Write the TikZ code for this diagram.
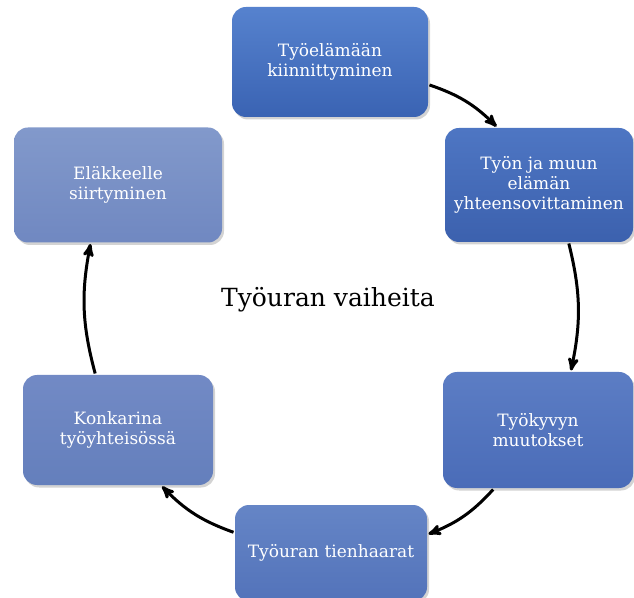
\documentclass[tikz,border=0pt]{standalone}
\usepackage{fontspec}
\setmainfont{DejaVu Serif}
\usepackage{tikz}
\usetikzlibrary{arrows,shadows}

\definecolor{faseAt}{HTML}{5682CE}
\definecolor{faseAb}{HTML}{3A63B3}
\definecolor{faseBt}{HTML}{4E76C3}
\definecolor{faseBb}{HTML}{3C61AE}
\definecolor{faseCt}{HTML}{5C7DC4}
\definecolor{faseCb}{HTML}{4A6CB8}
\definecolor{faseDt}{HTML}{6585C6}
\definecolor{faseDb}{HTML}{5373BA}
\definecolor{faseEt}{HTML}{728AC5}
\definecolor{faseEb}{HTML}{647FBC}
\definecolor{faseFt}{HTML}{8299CB}
\definecolor{faseFb}{HTML}{7088C1}

\begin{document}
\begin{tikzpicture}[x=1pt,y=1pt,->,>=stealth',line width=3pt,bend left=13]
		\tikzstyle{fase}=[rectangle,rounded corners=14pt,draw=none,text=white,align=center,
			font=\fontsize{17}{20}\selectfont,inner sep=0pt,
			drop shadow={opacity=0.35,shadow xshift=2pt,shadow yshift=-2.5pt}]
		\useasboundingbox (0,0) rectangle (634,597);
		\node[fase,top color=faseAt,bottom color=faseAb,minimum width=196pt,minimum height=110pt] (A) at (330,535) {Työelämään\\kiinnittyminen};
		\node[fase,top color=faseBt,bottom color=faseBb,minimum width=188pt,minimum height=114pt] (B) at (539,412) {Työn ja muun\\elämän\\yhteensovittaminen};
		\node[fase,top color=faseCt,bottom color=faseCb,minimum width=190pt,minimum height=116pt] (C) at (538,167) {Työkyvyn\\muutokset};
		\node[fase,top color=faseDt,bottom color=faseDb,minimum width=192pt,minimum height=96pt] (D) at (331,44) {Työuran tienhaarat};
		\node[fase,top color=faseEt,bottom color=faseEb,minimum width=190pt,minimum height=110pt] (E) at (118,167) {Konkarina\\työyhteisössä};
		\node[fase,top color=faseFt,bottom color=faseFb,minimum width=208pt,minimum height=115pt] (F) at (118,412) {Eläkkeelle\\siirtyminen};
		\node[font=\fontsize{25}{29}\selectfont] (T) at (328,297) {Työuran vaiheita};
		\path
		(A.-13) edge (B.126)
		(B.-63) edge (C.61)
		(C.-127) edge (D.11)
		(D.168) edge (E.-52)
		(E.112) edge (F.-115);
		\end{tikzpicture}
\end{document}
